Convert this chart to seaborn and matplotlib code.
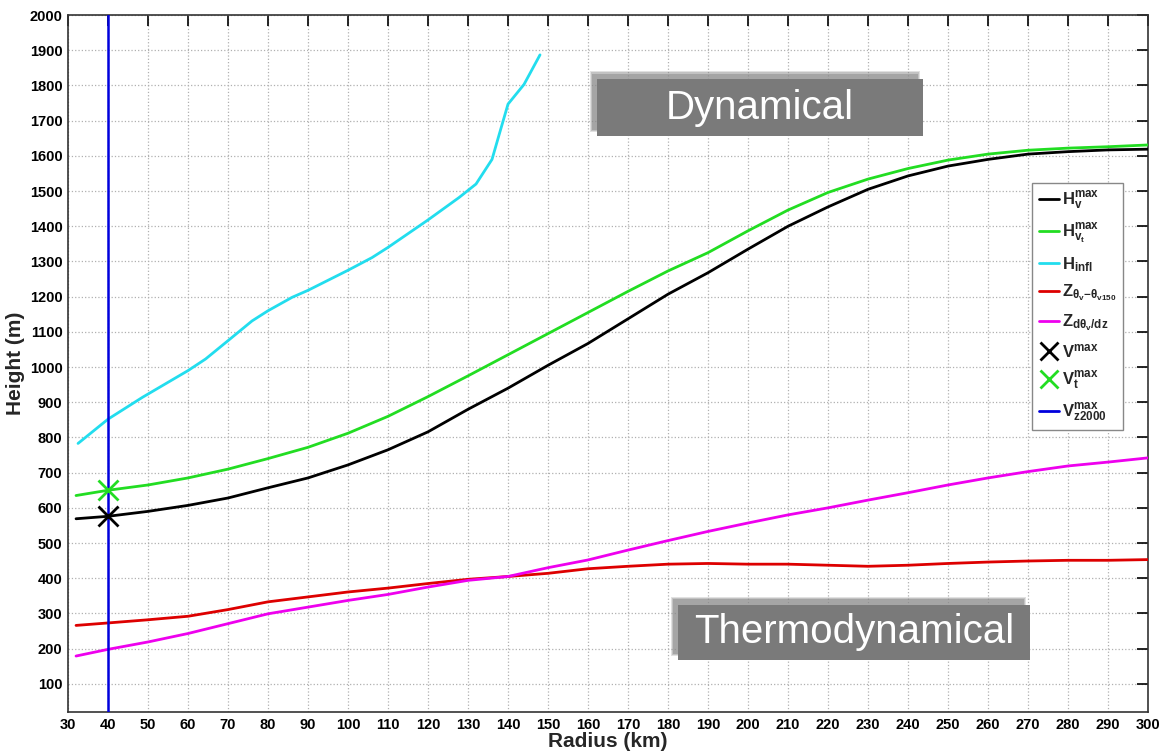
import numpy as np
import pandas as pd
import matplotlib
matplotlib.use("Agg")
import matplotlib.pyplot as plt
import seaborn as sns
from matplotlib.lines import Line2D
from matplotlib.patches import Rectangle

# ---------------- data ----------------
radius = [32, 40, 50, 60, 70, 80, 90, 100, 110, 120, 130, 140, 150, 160, 170,
          180, 190, 200, 210, 220, 230, 240, 250, 260, 270, 280, 290, 300]
h_vmax = [569, 576, 590, 607, 628, 657, 685, 722, 765, 816, 880, 940, 1005, 1067,
          1137, 1207, 1268, 1335, 1400, 1455, 1505, 1543, 1571, 1590, 1605, 1612, 1617, 1619]
h_vtmax = [635, 650, 665, 685, 710, 740, 772, 812, 860, 916, 975, 1035, 1095, 1155,
           1215, 1273, 1325, 1387, 1446, 1496, 1534, 1564, 1588, 1605, 1616, 1622, 1626, 1631]
z_theta = [266, 273, 282, 292, 311, 333, 347, 361, 372, 385, 397, 405, 414, 427,
           434, 440, 442, 440, 440, 437, 434, 437, 442, 446, 449, 451, 451, 453]
z_dtheta = [179, 198, 219, 243, 271, 299, 318, 337, 354, 375, 394, 405, 430, 452,
            480, 507, 533, 557, 580, 600, 622, 643, 665, 685, 703, 719, 730, 742]

radius_infl = [32.5, 40, 48.6, 60, 64.4, 70, 76, 80, 86, 90, 100, 106, 110, 120,
               127.8, 132, 136, 137.8, 140, 144, 148]
h_infl = [783, 852, 914, 990, 1023, 1075, 1131, 1160, 1198, 1218, 1275, 1311, 1340,
          1418, 1482, 1520, 1590, 1661, 1747, 1803, 1887]

vmax_point = (40, 578)
vtmax_point = (40, 652)
vz2000_radius = 40

x_ticks = list(range(30, 301, 10))
y_ticks = list(range(100, 2001, 100))

labels = [r"$H_v^{max}$", r"$H_{v_t}^{max}$", r"$H_{infl}$",
          r"$Z_{\theta_v\mathrm{-}\theta_{v150}}$", r"$Z_{d\theta_v/dz}$",
          r"$V^{max}$", r"$V_t^{max}$", r"$V_{z2000}^{max}$"]

# ---------------- style ----------------
sns.set_style("white")
plt.rcParams["font.family"] = ["Liberation Sans", "DejaVu Sans"]
plt.rcParams["mathtext.fontset"] = "custom"
plt.rcParams["mathtext.rm"] = "Liberation Sans:bold"
plt.rcParams["mathtext.it"] = "Liberation Sans:bold"
plt.rcParams["mathtext.bf"] = "Liberation Sans:bold"
plt.rcParams["mathtext.default"] = "bf"

fig = plt.figure(figsize=(11.67, 7.54), dpi=100)
ax = fig.add_axes([0.0583, 0.0557, 0.9254, 0.9243])

c_black = "#000000"
c_green = "#22dd22"
c_cyan = "#22ddee"
c_red = "#dd0000"
c_mag = "#ee00ee"
c_blue = "#0000dd"
lw = 2.0

sns.lineplot(x=radius, y=h_vmax, color=c_black, lw=lw, ax=ax, zorder=3)
sns.lineplot(x=radius, y=h_vtmax, color=c_green, lw=lw, ax=ax, zorder=3)
sns.lineplot(x=radius_infl, y=h_infl, color=c_cyan, lw=lw, ax=ax, zorder=3)
sns.lineplot(x=radius, y=z_theta, color=c_red, lw=lw, ax=ax, zorder=3)
sns.lineplot(x=radius, y=z_dtheta, color=c_mag, lw=lw, ax=ax, zorder=3)
ax.axvline(vz2000_radius, color=c_blue, lw=1.8, zorder=4)
ax.plot([vmax_point[0]], [vmax_point[1]], marker="x", ms=14, mew=2, color=c_black,
        ls="none", zorder=5)
ax.plot([vtmax_point[0]], [vtmax_point[1]], marker="x", ms=14, mew=2, color=c_green,
        ls="none", zorder=5)

ax.set_xlim(30, 300)
ax.set_ylim(20, 2000)
ax.set_xticks(x_ticks)
ax.set_yticks(y_ticks)
ax.grid(True, ls=":", color="#b0b0b0", lw=0.9)
ax.tick_params(direction="in", length=8, width=1.2, top=True, right=True,
               labelsize=10.5, pad=4, colors="black")
for t in ax.get_xticklabels() + ax.get_yticklabels():
    t.set_fontweight("bold")
for s in ax.spines.values():
    s.set_color("#333333")
    s.set_linewidth(1.2)
ax.set_xlabel("Radius (km)", fontsize=15, fontweight="bold", labelpad=0)
ax.set_ylabel("Height (m)", fontsize=15, fontweight="bold", labelpad=3)

# ---------------- labeled boxes ----------------
def shadow_box(x0, x1, y0, y1, text):
    dx, dy = -1.4, 17
    for k, a in enumerate([0.25, 0.35, 0.5]):
        g = 2 - k
        ax.add_patch(Rectangle((x0 + dx - g * 0.25, y0 + dy - g * 3),
                               (x1 - x0) + g * 0.5, (y1 - y0) + g * 6,
                               facecolor="#8a8a8a", edgecolor="none", alpha=a, zorder=6))
    ax.add_patch(Rectangle((x0, y0), x1 - x0, y1 - y0, facecolor="#7a7a7a",
                           edgecolor="none", zorder=7))
    ax.text((x0 + x1) / 2, (y0 + y1) / 2, text, color="white", fontsize=29,
            ha="center", va="center", zorder=8, fontweight="normal")

shadow_box(162.3, 243.8, 1656, 1817, "Dynamical")
shadow_box(182.6, 270.5, 167, 325, "Thermodynamical")

# ---------------- legend ----------------
handles = [
    Line2D([], [], color=c_black, lw=lw),
    Line2D([], [], color=c_green, lw=lw),
    Line2D([], [], color=c_cyan, lw=lw),
    Line2D([], [], color=c_red, lw=lw),
    Line2D([], [], color=c_mag, lw=lw),
    Line2D([], [], color=c_black, marker="x", ms=13, mew=2, ls="none"),
    Line2D([], [], color=c_green, marker="x", ms=13, mew=2, ls="none"),
    Line2D([], [], color=c_blue, lw=lw),
]
leg = ax.legend(handles, labels, loc="upper left", bbox_to_anchor=(0.893, 0.759),
                fontsize=12, frameon=True, fancybox=False, framealpha=1,
                edgecolor="#888888", handlelength=1.2, handletextpad=0.15,
                labelspacing=0.55, borderpad=0.4, borderaxespad=0)
leg.get_frame().set_linewidth(1.0)
leg.set_zorder(10)

fig.savefig("out.png", dpi=100)
